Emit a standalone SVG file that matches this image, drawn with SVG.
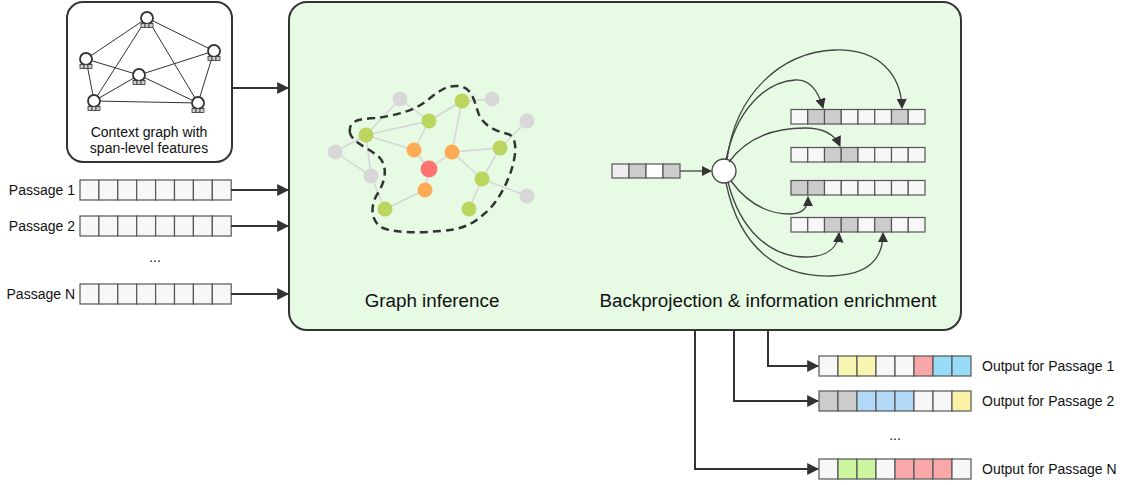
<svg xmlns="http://www.w3.org/2000/svg" width="1123" height="485" viewBox="0 0 1123 485">
  <defs>
    <marker id="arrowBig" viewBox="0 0 10 10" refX="9" refY="5" markerWidth="6" markerHeight="6" orient="auto" markerUnits="strokeWidth">
      <path d="M0,0 L10,5 L0,10 Z" fill="#333"/>
    </marker>
    <marker id="arrowSmall" viewBox="0 0 10 10" refX="9" refY="5" markerWidth="8" markerHeight="8" orient="auto" markerUnits="strokeWidth">
      <path d="M0,0 L10,5 L0,10 Z" fill="#333"/>
    </marker>
    <g id="ctxNode">
      <circle cx="0" cy="0" r="6" fill="#fff" stroke="#333" stroke-width="1.8"/>
      <rect x="-6" y="5.5" width="4" height="4" fill="#ccc" stroke="#333" stroke-width="0.8"/>
      <rect x="-2" y="5.5" width="4" height="4" fill="#ccc" stroke="#333" stroke-width="0.8"/>
      <rect x="2" y="5.5" width="4" height="4" fill="#ccc" stroke="#333" stroke-width="0.8"/>
    </g>
  </defs>
  <style>
    .lbl { font-family: "Liberation Sans", Arial, sans-serif; font-size: 14px; fill: #111; }
    .big { font-family: "Liberation Sans", Arial, sans-serif; font-size: 18.8px; fill: #111; }
    .frame { fill: #fff; stroke: #333; stroke-width: 2; }
    .cell { stroke: #555; stroke-width: 1.2; }
    .w { fill: #f7f7f7; }
    .g { fill: #cccccc; }
    .y { fill: #f8f5b0; }
    .p { fill: #f9a7a9; }
    .c { fill: #99dcf7; }
    .b { fill: #b1d9f7; }
    .gr { fill: #ccf5a0; }
    .conn { fill: none; stroke: #333; stroke-width: 2; }
    .thin { fill: none; stroke: #444; stroke-width: 1.3; }
    .gedge { stroke: #d6d6d6; stroke-width: 1.5; }
    .cedge { stroke: #333; stroke-width: 1; }
  </style>

  <!-- context graph box -->
  <g id="context-graph">
    <rect x="67" y="2" width="165" height="160" rx="16" class="frame"/>
    <g class="cedge">
      <line x1="147" y1="18" x2="86" y2="59"/>
      <line x1="147" y1="18" x2="214" y2="51"/>
      <line x1="147" y1="18" x2="94" y2="101"/>
      <line x1="147" y1="18" x2="198" y2="103"/>
      <line x1="86" y1="59" x2="139" y2="75"/>
      <line x1="86" y1="59" x2="94" y2="101"/>
      <line x1="139" y1="75" x2="214" y2="51"/>
      <line x1="139" y1="75" x2="94" y2="101"/>
      <line x1="139" y1="75" x2="198" y2="103"/>
      <line x1="94" y1="101" x2="198" y2="103"/>
      <line x1="214" y1="51" x2="198" y2="103"/>
    </g>
    <use href="#ctxNode" x="147" y="18"/>
    <use href="#ctxNode" x="86" y="59"/>
    <use href="#ctxNode" x="214" y="51"/>
    <use href="#ctxNode" x="139" y="75"/>
    <use href="#ctxNode" x="94" y="101"/>
    <use href="#ctxNode" x="198" y="103"/>
    <text x="149" y="137" text-anchor="middle" class="lbl">Context graph with</text>
    <text x="149" y="153" text-anchor="middle" class="lbl">span-level features</text>
  </g>

  <!-- main processing box -->
  <g id="main-box">
    <rect x="289" y="2" width="672" height="328" rx="18" fill="#e6fae4" stroke="#333" stroke-width="2"/>
  </g>

  <!-- passages -->
  <g id="passage-1">
    <text x="75" y="195" text-anchor="end" class="lbl">Passage 1</text>
    <g class="cell w">
      <rect x="80" y="180" width="18.9" height="20"/><rect x="98.9" y="180" width="18.9" height="20"/><rect x="117.8" y="180" width="18.9" height="20"/><rect x="136.7" y="180" width="18.9" height="20"/>
      <rect x="155.6" y="180" width="18.9" height="20"/><rect x="174.5" y="180" width="18.9" height="20"/><rect x="193.4" y="180" width="18.9" height="20"/><rect x="212.3" y="180" width="18.9" height="20"/>
    </g>
  </g>
  <g id="passage-2">
    <text x="75" y="231" text-anchor="end" class="lbl">Passage 2</text>
    <g class="cell w">
      <rect x="80" y="216" width="18.9" height="20"/><rect x="98.9" y="216" width="18.9" height="20"/><rect x="117.8" y="216" width="18.9" height="20"/><rect x="136.7" y="216" width="18.9" height="20"/>
      <rect x="155.6" y="216" width="18.9" height="20"/><rect x="174.5" y="216" width="18.9" height="20"/><rect x="193.4" y="216" width="18.9" height="20"/><rect x="212.3" y="216" width="18.9" height="20"/>
    </g>
  </g>
  <text x="155" y="262" text-anchor="middle" class="lbl">...</text>
  <g id="passage-n">
    <text x="75" y="299" text-anchor="end" class="lbl">Passage N</text>
    <g class="cell w">
      <rect x="80" y="284" width="18.9" height="20"/><rect x="98.9" y="284" width="18.9" height="20"/><rect x="117.8" y="284" width="18.9" height="20"/><rect x="136.7" y="284" width="18.9" height="20"/>
      <rect x="155.6" y="284" width="18.9" height="20"/><rect x="174.5" y="284" width="18.9" height="20"/><rect x="193.4" y="284" width="18.9" height="20"/><rect x="212.3" y="284" width="18.9" height="20"/>
    </g>
  </g>

  <!-- graph inference illustration -->
  <g id="graph-inference">
    <g class="gedge">
      <line x1="400" y1="99" x2="366" y2="135"/>
      <line x1="400" y1="99" x2="429" y2="121"/>
      <line x1="429" y1="121" x2="366" y2="135"/>
      <line x1="429" y1="121" x2="462" y2="101"/>
      <line x1="429" y1="121" x2="414" y2="150"/>
      <line x1="366" y1="135" x2="414" y2="150"/>
      <line x1="366" y1="135" x2="335" y2="152"/>
      <line x1="366" y1="135" x2="371" y2="176"/>
      <line x1="335" y1="152" x2="371" y2="176"/>
      <line x1="371" y1="176" x2="385" y2="209"/>
      <line x1="385" y1="209" x2="425" y2="190"/>
      <line x1="425" y1="190" x2="429" y2="169"/>
      <line x1="429" y1="169" x2="414" y2="150"/>
      <line x1="429" y1="169" x2="452" y2="152"/>
      <line x1="452" y1="152" x2="462" y2="101"/>
      <line x1="462" y1="101" x2="492" y2="99"/>
      <line x1="452" y1="152" x2="500" y2="148"/>
      <line x1="452" y1="152" x2="482" y2="179"/>
      <line x1="527" y1="121" x2="500" y2="148"/>
      <line x1="500" y1="148" x2="482" y2="179"/>
      <line x1="482" y1="179" x2="527" y2="196"/>
      <line x1="482" y1="179" x2="469" y2="209"/>
    </g>
    <g fill="#d8d8d8">
      <circle cx="400" cy="99" r="7.5"/><circle cx="492" cy="99" r="7.5"/><circle cx="527" cy="121" r="7.5"/>
      <circle cx="335" cy="152" r="7.5"/><circle cx="371" cy="176" r="7.5"/><circle cx="527" cy="196" r="7.5"/>
    </g>
    <g fill="#bcd55e">
      <circle cx="462" cy="101" r="7.5"/><circle cx="429" cy="121" r="7.5"/><circle cx="366" cy="135" r="7.5"/>
      <circle cx="500" cy="148" r="7.5"/><circle cx="482" cy="179" r="7.5"/><circle cx="385" cy="209" r="7.5"/><circle cx="469" cy="209" r="7.5"/>
    </g>
    <g fill="#ffaa55">
      <circle cx="414" cy="150" r="7.5"/><circle cx="452" cy="152" r="7.5"/><circle cx="425" cy="190" r="7.5"/>
    </g>
    <circle cx="429" cy="169" r="8.5" fill="#ff7373"/>
    <path d="M350,133 C348,120 360,119 375,118 C395,116 415,110 425,102 C437,93 445,85 458,86 C472,87 474,100 478,112 C482,125 495,131 508,134 C518,137 516,155 512,168 C507,185 496,205 484,214 C472,225 460,230 440,231 C420,233 395,233 383,228 C370,222 370,205 378,193 C386,180 388,165 378,156 C368,148 352,142 350,133 Z" fill="none" stroke="#333" stroke-width="2.5" stroke-dasharray="8,5"/>
    <text x="432" y="307" text-anchor="middle" class="big">Graph inference</text>
  </g>

  <!-- backprojection illustration -->
  <g id="backprojection">
    <g class="cell">
      <rect x="612" y="164" width="17" height="14" fill="#eee"/>
      <rect x="629" y="164" width="17" height="14" class="g"/>
      <rect x="646" y="164" width="17" height="14" fill="#fff"/>
      <rect x="663" y="164" width="17" height="14" class="g"/>
    </g>
    <circle id="proj-node" cx="724" cy="171" r="12" fill="#fff" stroke="#444" stroke-width="1.3"/>
    <g class="cell">
      <rect x="791" y="109.5" width="16.75" height="14.5" class="w"/><rect x="807.75" y="109.5" width="16.75" height="14.5" class="g"/><rect x="824.5" y="109.5" width="16.75" height="14.5" class="g"/><rect x="841.25" y="109.5" width="16.75" height="14.5" class="w"/>
      <rect x="858" y="109.5" width="16.75" height="14.5" class="w"/><rect x="874.75" y="109.5" width="16.75" height="14.5" class="w"/><rect x="891.5" y="109.5" width="16.75" height="14.5" class="g"/><rect x="908.25" y="109.5" width="16.75" height="14.5" class="w"/>

      <rect x="791" y="147.5" width="16.75" height="14.5" class="w"/><rect x="807.75" y="147.5" width="16.75" height="14.5" class="w"/><rect x="824.5" y="147.5" width="16.75" height="14.5" class="g"/><rect x="841.25" y="147.5" width="16.75" height="14.5" class="g"/>
      <rect x="858" y="147.5" width="16.75" height="14.5" class="w"/><rect x="874.75" y="147.5" width="16.75" height="14.5" class="w"/><rect x="891.5" y="147.5" width="16.75" height="14.5" class="w"/><rect x="908.25" y="147.5" width="16.75" height="14.5" class="w"/>

      <rect x="791" y="180.5" width="16.75" height="14.5" class="g"/><rect x="807.75" y="180.5" width="16.75" height="14.5" class="g"/><rect x="824.5" y="180.5" width="16.75" height="14.5" class="w"/><rect x="841.25" y="180.5" width="16.75" height="14.5" class="w"/>
      <rect x="858" y="180.5" width="16.75" height="14.5" class="w"/><rect x="874.75" y="180.5" width="16.75" height="14.5" class="w"/><rect x="891.5" y="180.5" width="16.75" height="14.5" class="w"/><rect x="908.25" y="180.5" width="16.75" height="14.5" class="w"/>

      <rect x="791" y="217.5" width="16.75" height="14.5" class="w"/><rect x="807.75" y="217.5" width="16.75" height="14.5" class="w"/><rect x="824.5" y="217.5" width="16.75" height="14.5" class="g"/><rect x="841.25" y="217.5" width="16.75" height="14.5" class="g"/>
      <rect x="858" y="217.5" width="16.75" height="14.5" class="w"/><rect x="874.75" y="217.5" width="16.75" height="14.5" class="g"/><rect x="891.5" y="217.5" width="16.75" height="14.5" class="w"/><rect x="908.25" y="217.5" width="16.75" height="14.5" class="w"/>
    </g>
    <text x="768" y="307" text-anchor="middle" class="big">Backprojection &amp; information enrichment</text>
  </g>

  <!-- output rows -->
  <g id="output-1">
    <g class="cell">
      <rect x="819" y="356" width="19" height="20" class="w"/><rect x="838" y="356" width="19" height="20" class="y"/><rect x="857" y="356" width="19" height="20" class="y"/><rect x="876" y="356" width="19" height="20" class="w"/>
      <rect x="895" y="356" width="19" height="20" class="w"/><rect x="914" y="356" width="19" height="20" class="p"/><rect x="933" y="356" width="19" height="20" class="c"/><rect x="952" y="356" width="19" height="20" class="c"/>
    </g>
    <text x="982" y="371" class="lbl">Output for Passage 1</text>
  </g>
  <g id="output-2">
    <g class="cell">
      <rect x="819" y="391" width="19" height="20" class="g"/><rect x="838" y="391" width="19" height="20" class="g"/><rect x="857" y="391" width="19" height="20" class="b"/><rect x="876" y="391" width="19" height="20" class="b"/>
      <rect x="895" y="391" width="19" height="20" class="b"/><rect x="914" y="391" width="19" height="20" class="w"/><rect x="933" y="391" width="19" height="20" class="w"/><rect x="952" y="391" width="19" height="20" fill="#fbf1a6"/>
    </g>
    <text x="982" y="406" class="lbl">Output for Passage 2</text>
  </g>
  <text x="895" y="440" text-anchor="middle" class="lbl">...</text>
  <g id="output-n">
    <g class="cell">
      <rect x="819" y="459" width="19" height="20" class="w"/><rect x="838" y="459" width="19" height="20" class="gr"/><rect x="857" y="459" width="19" height="20" class="gr"/><rect x="876" y="459" width="19" height="20" class="w"/>
      <rect x="895" y="459" width="19" height="20" class="p"/><rect x="914" y="459" width="19" height="20" class="p"/><rect x="933" y="459" width="19" height="20" class="p"/><rect x="952" y="459" width="19" height="20" class="w"/>
    </g>
    <text x="982" y="474" class="lbl">Output for Passage N</text>
  </g>

  <!-- connectors -->
  <g id="connectors">
    <line x1="232" y1="88" x2="288" y2="88" class="conn" marker-end="url(#arrowBig)"/>
    <line x1="231" y1="190" x2="288" y2="190" class="conn" marker-end="url(#arrowBig)"/>
    <line x1="231" y1="226" x2="288" y2="226" class="conn" marker-end="url(#arrowBig)"/>
    <line x1="231" y1="294" x2="288" y2="294" class="conn" marker-end="url(#arrowBig)"/>

    <polyline points="768,331 768,366 818,366" class="conn" marker-end="url(#arrowBig)"/>
    <polyline points="734,331 734,401 818,401" class="conn" marker-end="url(#arrowBig)"/>
    <polyline points="695,331 695,469 818,469" class="conn" marker-end="url(#arrowBig)"/>

    <line x1="680" y1="171" x2="711" y2="171" class="thin" marker-end="url(#arrowSmall)"/>
    <path d="M727,160 C735,95 780,52 835,50 C880,49 901,75 902,108" class="thin" marker-end="url(#arrowSmall)"/>
    <path d="M726,160 C736,110 765,82 795,80 C810,79 818,90 823,108" class="thin" marker-end="url(#arrowSmall)"/>
    <path d="M729,162 C745,140 770,128 805,128 C825,128 835,135 840,146" class="thin" marker-end="url(#arrowSmall)"/>
    <path d="M731,181 C745,200 765,214 790,214 C803,214 808,207 808,197" class="thin" marker-end="url(#arrowSmall)"/>
    <path d="M728,182 C740,230 770,257 805,257 C828,257 838,247 839,233" class="thin" marker-end="url(#arrowSmall)"/>
    <path d="M726,183 C740,250 780,277 830,276 C870,275 883,258 883,233" class="thin" marker-end="url(#arrowSmall)"/>
  </g>
</svg>
